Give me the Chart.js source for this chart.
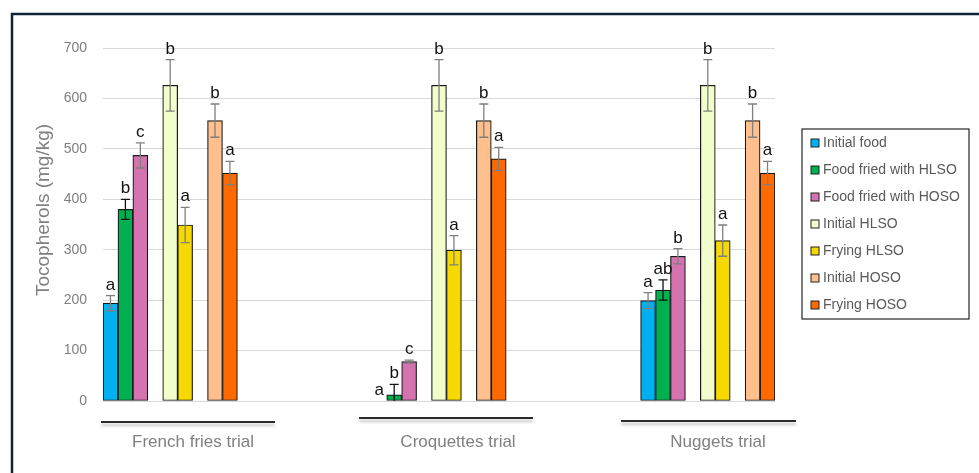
<!DOCTYPE html>
<html>
<head>
<meta charset="utf-8">
<script src="https://cdn.jsdelivr.net/npm/chart.js@4.4.1/dist/chart.umd.min.js"></script>
<style>
  html, body { margin: 0; padding: 0; background: #fff; }
  #wrap { width: 979px; height: 473px; }
</style>
</head>
<body>
<div id="wrap"><canvas id="grafik"></canvas></div>
<script>
// Trials (x groups)
const trials = ["French fries trial", "Croquettes trial", "Nuggets trial"];

// Series values (mg/kg), one value per trial
const initialFood   = [194, 0, 199];
const friedHLSO     = [380, 12, 220];
const friedHOSO     = [487, 78, 287];
const initialHLSO   = [626, 626, 626];
const fryingHLSO    = [349, 299, 318];
const initialHOSO   = [556, 556, 556];
const fryingHOSO    = [452, 480, 452];

// Error bars (±)
const initialFoodErr = [15, 0, 16];
const friedHLSOErr   = [20, 21, 20];
const friedHOSOErr   = [25, 3, 15];
const initialHLSOErr = [51, 51, 51];
const fryingHLSOErr  = [35, 29, 31];
const initialHOSOErr = [33, 33, 33];
const fryingHOSOErr  = [23, 23, 23];

// Significance letters
const initialFoodLet = ["a", "a", "a"];
const friedHLSOLet   = ["b", "b", "ab"];
const friedHOSOLet   = ["c", "c", "b"];
const initialHLSOLet = ["b", "b", "b"];
const fryingHLSOLet  = ["a", "a", "a"];
const initialHOSOLet = ["b", "b", "b"];
const fryingHOSOLet  = ["a", "a", "a"];

// Y axis ticks
const yTicks = [0, 100, 200, 300, 400, 500, 600, 700];
const yTitle = "Tocopherols (mg/kg)";

const FONT = "'Liberation Sans', Arial, sans-serif";

// slot layout: each trial takes 9 bar slots, trials start 18 slots apart
const trialStart = [0, 18, 36];
const seriesSlot = [0, 1, 2, 4, 5, 7, 8];

const seriesDefs = [
  { label: "Initial food",         values: initialFood, err: initialFoodErr, letters: initialFoodLet, color: "#00B0F0", errColor: "#7f7f7f" },
  { label: "Food fried with HLSO", values: friedHLSO,   err: friedHLSOErr,   letters: friedHLSOLet,   color: "#00B050", errColor: "#111111" },
  { label: "Food fried with HOSO", values: friedHOSO,   err: friedHOSOErr,   letters: friedHOSOLet,   color: "#D573B1", errColor: "#7f7f7f" },
  { label: "Initial HLSO",         values: initialHLSO, err: initialHLSOErr, letters: initialHLSOLet, color: "#F1FDCB", errColor: "#7f7f7f" },
  { label: "Frying HLSO",          values: fryingHLSO,  err: fryingHLSOErr,  letters: fryingHLSOLet,  color: "#F5D900", errColor: "#7f7f7f" },
  { label: "Initial HOSO",         values: initialHOSO, err: initialHOSOErr, letters: initialHOSOLet, color: "#FFC08E", errColor: "#7f7f7f" },
  { label: "Frying HOSO",          values: fryingHOSO,  err: fryingHOSOErr,  letters: fryingHOSOLet,  color: "#FF6A00", errColor: "#7f7f7f" }
];

const datasets = seriesDefs.map((s, i) => ({
  label: s.label,
  data: s.values.map((v, g) => ({ x: trialStart[g] + seriesSlot[i] + 0.5, y: v })),
  backgroundColor: s.color,
  borderColor: "#1a1a1a",
  borderWidth: 1.2,
  borderSkipped: false,
  grouped: false,
  barPercentage: 1,
  categoryPercentage: 1,
  errors: s.err,
  letters: s.letters,
  errColor: s.errColor
}));

// frame, axis title, group underlines and labels, legend
const decorPlugin = {
  id: "decor",
  beforeDraw(chart) {
    const ctx = chart.ctx;
    ctx.save();
    ctx.fillStyle = "#fff";
    ctx.fillRect(0, 0, chart.width, chart.height);
    ctx.restore();
  },
  afterDraw(chart) {
    const ctx = chart.ctx;
    ctx.save();
    // outer frame (top and left)
    ctx.strokeStyle = "#0f2537";
    ctx.lineWidth = 2.5;
    ctx.beginPath();
    ctx.moveTo(chart.width, 14);
    ctx.lineTo(12, 14);
    ctx.lineTo(12, chart.height);
    ctx.stroke();

    // y axis title
    ctx.save();
    ctx.translate(44, 210);
    ctx.rotate(-Math.PI / 2);
    ctx.fillStyle = "#808080";
    ctx.font = "19px " + FONT;
    ctx.textAlign = "center";
    ctx.textBaseline = "middle";
    ctx.fillText(yTitle, 0, 0);
    ctx.restore();

    // trial underlines
    const lines = [[101, 275, 422], [359, 533, 418], [621, 796, 421]];
    lines.forEach(([x1, x2, y]) => {
      ctx.save();
      ctx.shadowColor = "rgba(0,0,0,0.25)";
      ctx.shadowBlur = 3;
      ctx.shadowOffsetY = 3;
      ctx.strokeStyle = "#2b2b2b";
      ctx.lineWidth = 2;
      ctx.beginPath();
      ctx.moveTo(x1, y);
      ctx.lineTo(x2, y);
      ctx.stroke();
      ctx.restore();
    });

    // trial labels
    const centers = [193, 458, 718];
    ctx.fillStyle = "#808080";
    ctx.font = "17px " + FONT;
    ctx.textAlign = "center";
    ctx.textBaseline = "middle";
    trials.forEach((t, i) => ctx.fillText(t, centers[i], 442));

    // legend
    const lx = 802, ly = 129, lw = 167, lh = 190;
    ctx.strokeStyle = "#262626";
    ctx.lineWidth = 1.2;
    ctx.strokeRect(lx, ly, lw, lh);
    ctx.font = "14px " + FONT;
    ctx.textAlign = "left";
    chart.data.datasets.forEach((ds, i) => {
      const cy = 143 + i * 27;
      ctx.fillStyle = ds.backgroundColor;
      ctx.fillRect(811, cy - 4, 8, 8);
      ctx.strokeStyle = "#222";
      ctx.lineWidth = 1;
      ctx.strokeRect(811, cy - 4, 8, 8);
      ctx.fillStyle = "#595959";
      ctx.fillText(ds.label, 823, cy);
    });
    ctx.restore();
  }
};

// error bars + letters
const errorPlugin = {
  id: "hatalar",
  afterDatasetsDraw(chart) {
    const ctx = chart.ctx;
    const y = chart.scales.y;
    const area = chart.chartArea;
    chart.data.datasets.forEach((ds, di) => {
      const meta = chart.getDatasetMeta(di);
      meta.data.forEach((bar, i) => {
        const v = ds.data[i].y;
        const e = ds.errors[i];
        const top = y.getPixelForValue(v + e);
        const bot = y.getPixelForValue(v - e);
        if (e > 0) {
          ctx.save();
          ctx.beginPath();
          ctx.rect(area.left, area.top - 40, area.right - area.left, area.bottom - area.top + 40);
          ctx.clip();
          ctx.strokeStyle = ds.errColor;
          ctx.lineWidth = 1.3;
          ctx.beginPath();
          ctx.moveTo(bar.x, top);
          ctx.lineTo(bar.x, bot);
          ctx.moveTo(bar.x - 4.5, top);
          ctx.lineTo(bar.x + 4.5, top);
          ctx.moveTo(bar.x - 4.5, bot);
          ctx.lineTo(bar.x + 4.5, bot);
          ctx.stroke();
          ctx.restore();
        }
        ctx.save();
        ctx.fillStyle = "#111";
        ctx.font = "17px " + FONT;
        ctx.textAlign = "center";
        ctx.textBaseline = "alphabetic";
        ctx.fillText(ds.letters[i], bar.x, top - 6);
        ctx.restore();
      });
    });
  }
};

new Chart(document.getElementById("grafik"), {
  type: "bar",
  data: { datasets },
  options: {
    responsive: true,
    maintainAspectRatio: false,
    animation: false,
    layout: { padding: { top: 48, right: 204, bottom: 72, left: 0 } },
    plugins: {
      legend: { display: false },
      tooltip: { enabled: false }
    },
    scales: {
      x: {
        type: "linear",
        min: 0,
        max: 45,
        offset: false,
        display: false
      },
      y: {
        min: 0,
        max: 700,
        afterBuildTicks: scale => { scale.ticks = yTicks.map(v => ({ value: v })); },
        afterFit: scale => { scale.width = 103; },
        grid: { color: "#d9d9d9", lineWidth: 1, drawTicks: false },
        border: { display: false },
        ticks: {
          color: "#7f7f7f",
          padding: 16,
          font: { size: 14, family: FONT }
        },
        title: { display: false }
      }
    }
  },
  plugins: [decorPlugin, errorPlugin]
});
</script>
</body>
</html>
